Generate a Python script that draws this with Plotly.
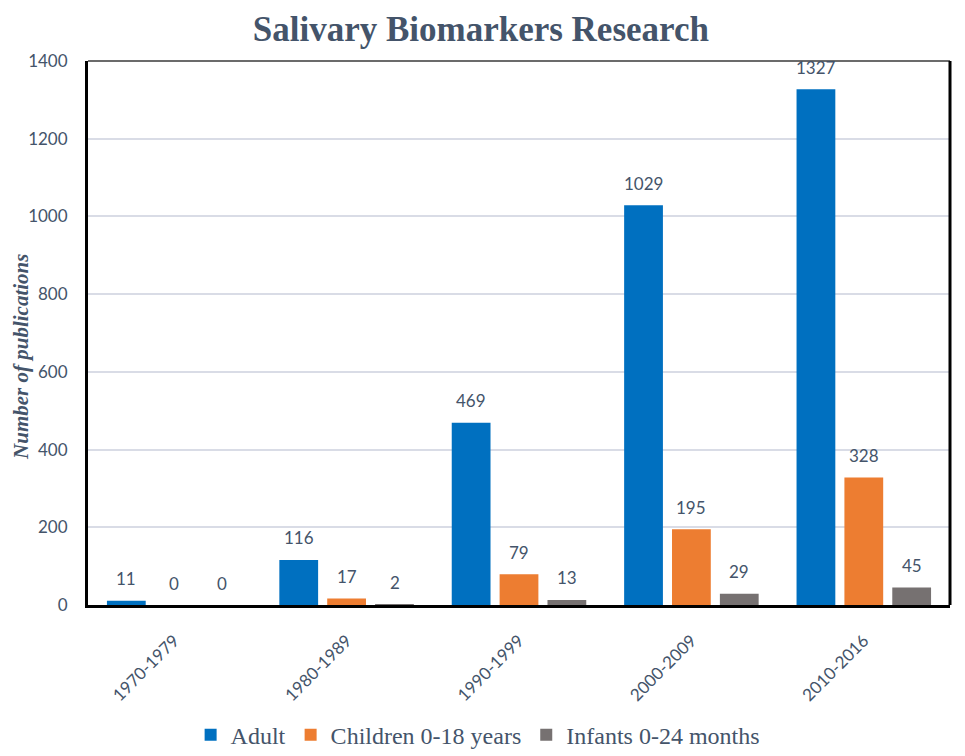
import plotly.graph_objects as go

categories = ["1970-1979", "1980-1989", "1990-1999", "2000-2009", "2010-2016"]
adult = [11, 116, 469, 1029, 1327]
children = [0, 17, 79, 195, 328]
infants = [0, 2, 13, 29, 45]
series_names = ["Adult", "Children 0-18 years", "Infants 0-24 months"]
series_colors = ["#0070C0", "#ED7D31", "#767171"]
y_ticks = [0, 200, 400, 600, 800, 1000, 1200, 1400]

TXT = "#44546A"

fig = go.Figure()
for name, vals, col in zip(series_names, [adult, children, infants], series_colors):
    fig.add_trace(go.Bar(
        x=categories, y=vals, name=name,
        marker=dict(color=col, line=dict(width=0)),
        textposition="none",
        hoverinfo="x+y+name",
    ))

# data labels as annotations above bars
offsets = [-1, 0, 1]
for vals, off in zip([adult, children, infants], offsets):
    for i, v in enumerate(vals):
        fig.add_annotation(
            x=i, y=v, xref="x", yref="y", text=str(v), showarrow=False,
            xshift=off * 48, yshift=22,
            font=dict(family="Lato", size=17, color=TXT),
        )

# page body has an 8px margin, so figure coordinates are shifted by 8px
fig.update_layout(
    width=965, height=756,
    paper_bgcolor="white", plot_bgcolor="white",
    margin=dict(l=80, r=23, t=53, b=159, autoexpand=False),
    barmode="group", bargap=0.167, bargroupgap=0.19,
    title=dict(
        text="<b>Salivary Biomarkers Research</b>",
        x=0.49, xanchor="center", yref="container", y=0.972, yanchor="middle",
        pad=dict(t=0, b=0),
        font=dict(family="Liberation Serif", size=35, color=TXT),
    ),
    showlegend=True,
    legend=dict(
        orientation="h", x=0.452, xanchor="center",
        yref="container", y=0.038, yanchor="middle",
        font=dict(family="Liberation Serif", size=24, color=TXT),
        itemsizing="constant", traceorder="normal",
    ),
    xaxis=dict(
        type="category", tickangle=-45,
        tickfont=dict(family="Lato", size=17, color=TXT),
        showline=True, linecolor="black", linewidth=3,
        ticks="outside", ticklen=16, tickcolor="rgba(0,0,0,0)",
        showgrid=False,
    ),
    yaxis=dict(
        range=[0, 1400], tickvals=y_ticks,
        tickfont=dict(family="Lato", size=17, color=TXT),
        showline=True, linecolor="black", linewidth=3,
        showgrid=True, gridcolor="#D9DCE6", gridwidth=1.5,
        zeroline=False, ticks="outside", ticklen=14, tickcolor="rgba(0,0,0,0)",
    ),
)

fig.add_annotation(
    text="<b><i>Number of publications</i></b>", xref="paper", yref="paper",
    x=(13 - 80) / 862, y=0.456, xanchor="center", yanchor="middle", textangle=-90,
    showarrow=False, font=dict(family="Liberation Serif", size=21, color=TXT),
)

# top and right border of the plot frame
fig.add_shape(type="line", xref="paper", yref="paper", x0=0, x1=1, y0=1, y1=1,
              line=dict(color="#3A3A3A", width=1.5))
fig.add_shape(type="line", xref="paper", yref="paper", x0=1, x1=1, y0=0, y1=1,
              line=dict(color="black", width=3))

fig.write_html("out.html")
